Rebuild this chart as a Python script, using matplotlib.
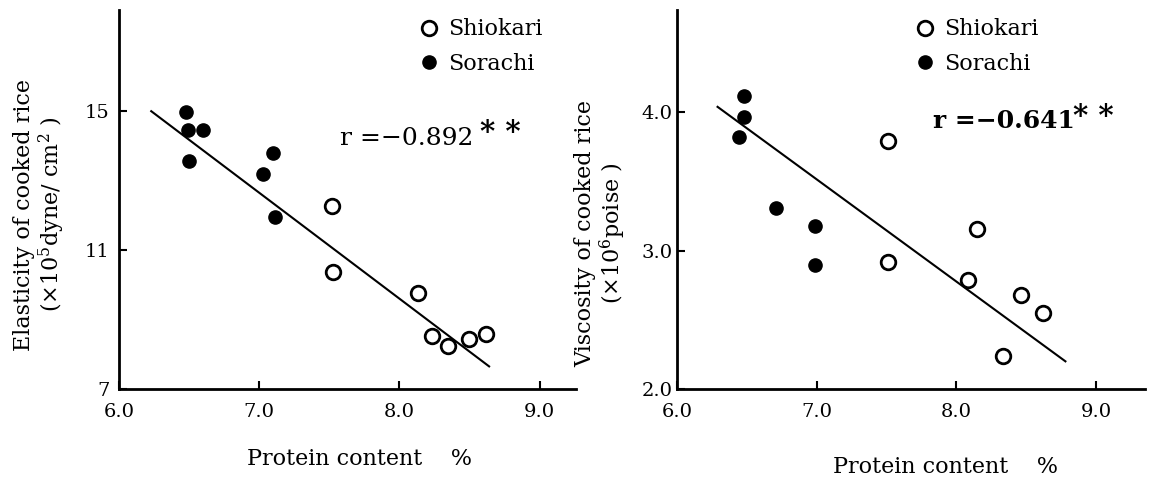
import numpy as np
import matplotlib.pyplot as plt

plt.rcParams['font.family'] = ['DejaVu Serif']
plt.rcParams['mathtext.fontset'] = 'dejavuserif'

# elasticity panel
el_sor_x = [6.48, 6.49, 6.60, 6.50, 7.10, 7.03, 7.11]
el_sor_y = [14.97, 14.46, 14.44, 13.56, 13.80, 13.18, 11.96]
el_shi_x = [7.52, 7.53, 8.13, 8.23, 8.35, 8.50, 8.62]
el_shi_y = [12.25, 10.37, 9.75, 8.51, 8.25, 8.44, 8.58]
el_fit_x = [6.23, 8.64]
el_fit_y = [14.99, 7.65]

# viscosity panel
vi_sor_x = [6.48, 6.48, 6.44, 6.71, 6.99, 6.99]
vi_sor_y = [4.12, 3.97, 3.82, 3.31, 3.18, 2.90]
vi_shi_x = [7.51, 7.51, 8.15, 8.08, 8.46, 8.62, 8.33]
vi_shi_y = [3.79, 2.92, 3.16, 2.79, 2.68, 2.55, 2.24]
vi_fit_x = [6.29, 8.78]
vi_fit_y = [4.04, 2.20]

xticks = [6.0, 7.0, 8.0, 9.0]
xticklabels = ['6.0', '7.0', '8.0', '9.0']

fig = plt.figure(figsize=(11.53, 4.79), dpi=100)
ax1 = fig.add_axes([0.1032, 0.1879, 0.3964, 0.7912])
ax2 = fig.add_axes([0.5872, 0.1879, 0.4059, 0.7912])

def style(ax, ypad):
    for s in ['top', 'right']:
        ax.spines[s].set_visible(False)
    for s in ['left', 'bottom']:
        ax.spines[s].set_linewidth(2)
    ax.tick_params(direction='in', length=6, width=1.5, labelsize=14)
    ax.tick_params(axis='x', pad=10)
    ax.tick_params(axis='y', pad=ypad)

def panel(ax, sx, sy, ox, oy, fx, fy):
    ax.plot(ox, oy, 'o', ms=10.5, mfc='white', mec='black', mew=2,
            ls='none', label='Shiokari')
    ax.plot(sx, sy, 'o', ms=9.5, mfc='black', mec='black',
            ls='none', label='Sorachi')
    ax.plot(fx, fy, color='black', lw=1.5)

def legend(ax, x0):
    ax.legend(loc='upper left', bbox_to_anchor=(x0, 0.978), frameon=False,
              fontsize=16, handlelength=1.0, handletextpad=0.38,
              labelspacing=0.55, borderaxespad=0, borderpad=0)

panel(ax1, el_sor_x, el_sor_y, el_shi_x, el_shi_y, el_fit_x, el_fit_y)
style(ax1, 7)
ax1.set_xlim(6.0, 9.26)
ax1.set_ylim(7.0, 17.9)
ax1.set_xticks(xticks)
ax1.set_xticklabels(xticklabels)
ax1.set_yticks([7, 11, 15])
ax1.set_ylabel('Elasticity of cooked rice\n(×10$^{5}$dyne/ cm$^{2}$ )',
               fontsize=16, linespacing=1.08)
ax1.yaxis.set_label_coords(-0.114, 0.46)
ax1.set_xlabel('Protein content    %', fontsize=16)
ax1.xaxis.set_label_coords(0.527, -0.155)
legend(ax1, 0.654)
ax1.text(0.484, 0.644, 'r =−0.892', transform=ax1.transAxes, fontsize=18,
         va='baseline', ha='left')
ax1.text(0.79, 0.655, '* *', transform=ax1.transAxes, fontsize=21,
         va='baseline', ha='left', fontweight='bold')

panel(ax2, vi_sor_x, vi_sor_y, vi_shi_x, vi_shi_y, vi_fit_x, vi_fit_y)
style(ax2, 3)
ax2.set_xlim(6.0, 9.35)
ax2.set_ylim(2.0, 4.74)
ax2.set_xticks(xticks)
ax2.set_xticklabels(xticklabels)
ax2.set_yticks([2.0, 3.0, 4.0])
ax2.set_yticklabels(['2.0', '3.0', '4.0'])
ax2.set_ylabel('Viscosity of cooked rice\n(×10$^{6}$poise )',
               fontsize=16, linespacing=1.08)
ax2.yaxis.set_label_coords(-0.104, 0.41)
ax2.set_xlabel('Protein content    %', fontsize=16)
ax2.xaxis.set_label_coords(0.573, -0.177)
legend(ax2, 0.506)
ax2.text(0.547, 0.689, 'r =−0.641', transform=ax2.transAxes, fontsize=18,
         va='baseline', ha='left', fontweight='bold')
ax2.text(0.846, 0.697, '* *', transform=ax2.transAxes, fontsize=21,
         va='baseline', ha='left', fontweight='bold')

fig.savefig('out.png', dpi=100)
